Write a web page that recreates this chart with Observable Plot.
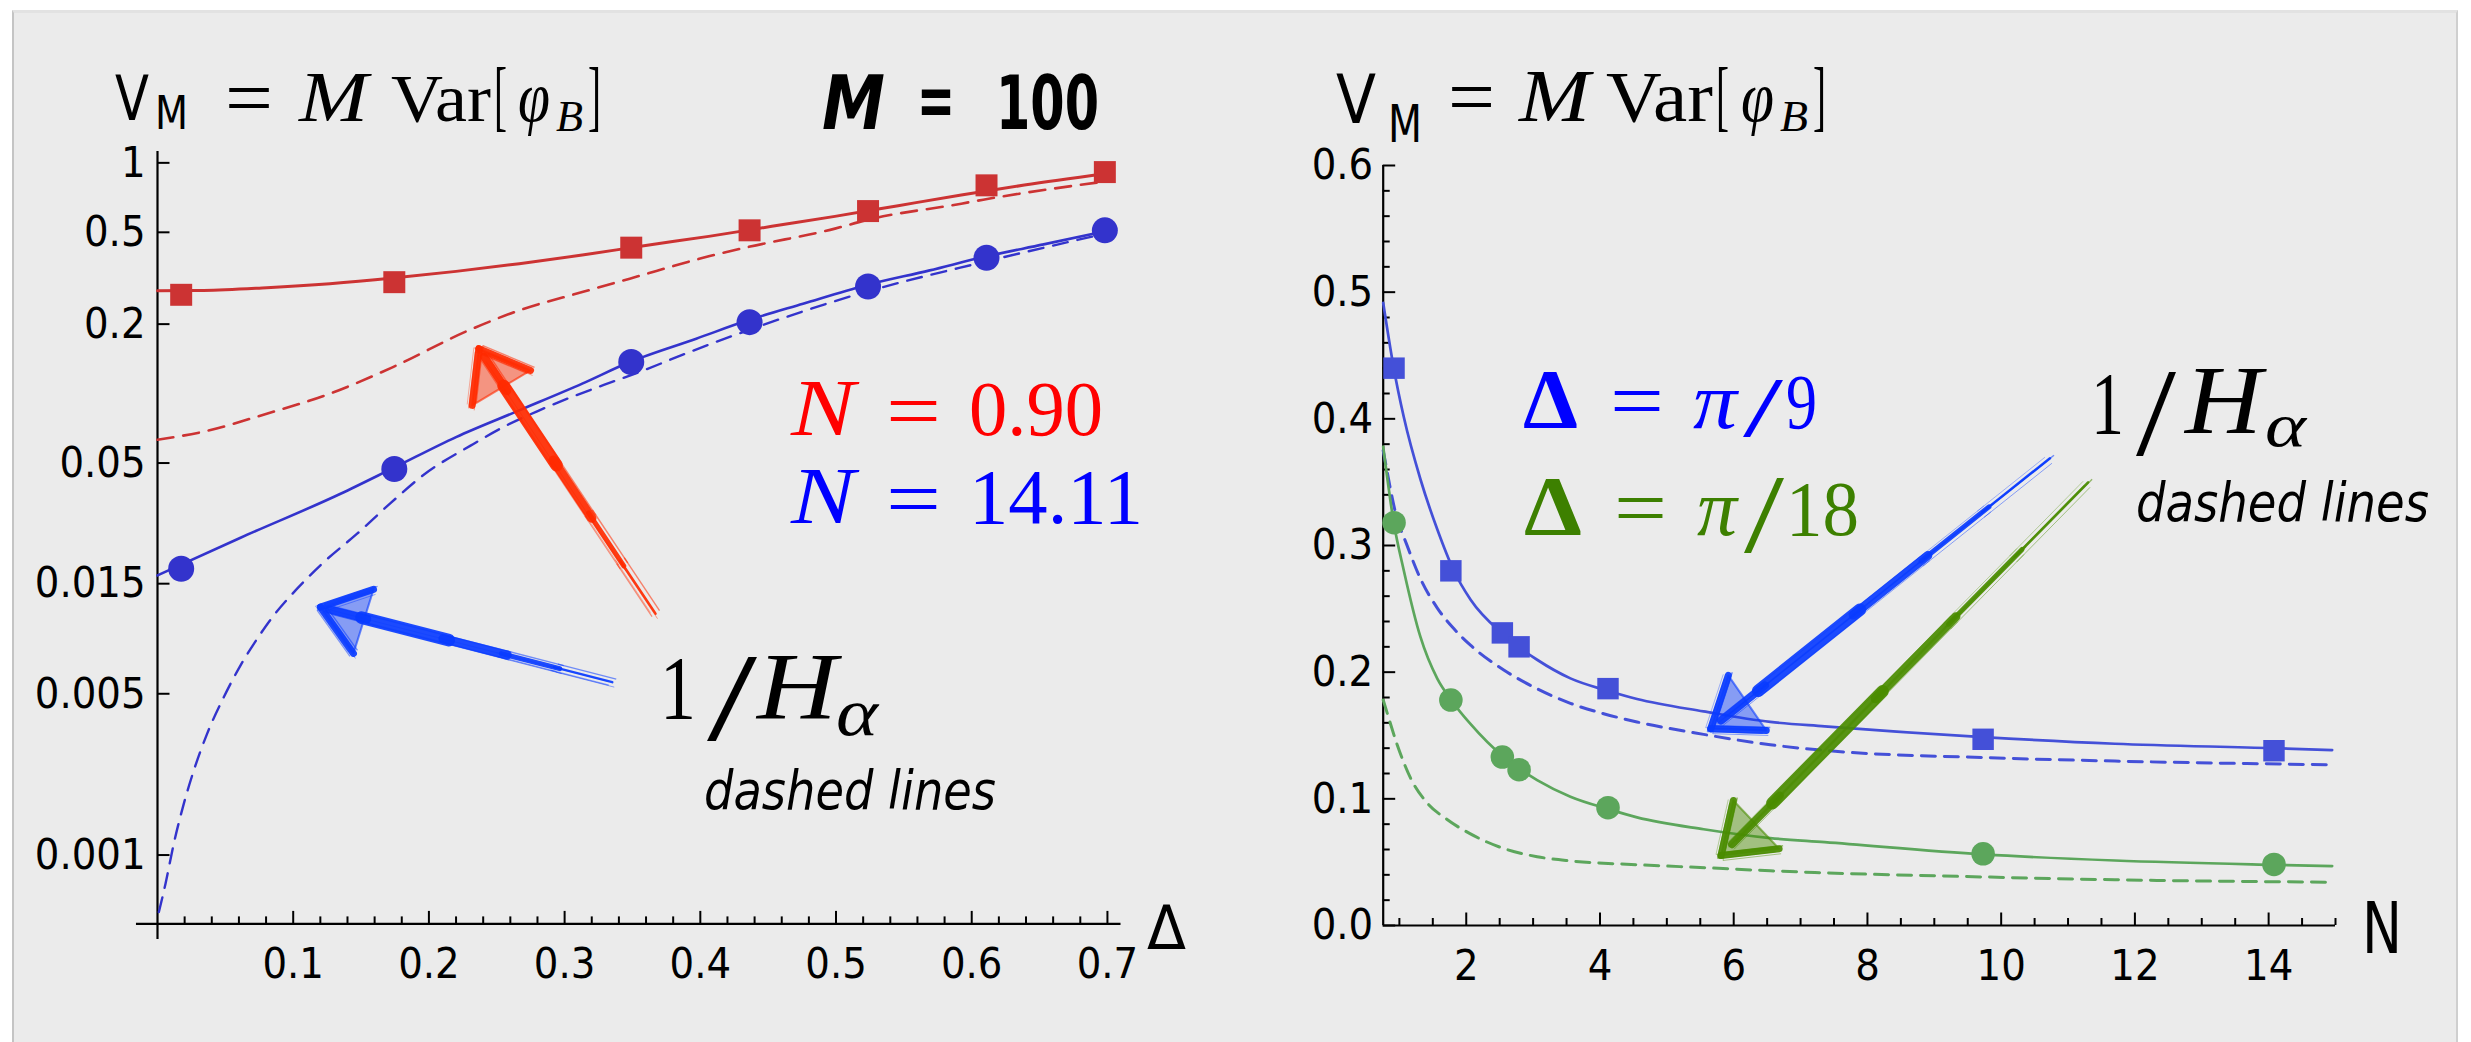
<!DOCTYPE html>
<html><head><meta charset="utf-8">
<script src="https://cdn.jsdelivr.net/npm/d3@7"></script>
<script src="https://cdn.jsdelivr.net/npm/@observablehq/plot@0.6"></script>
<style>
html,body{margin:0;padding:0;background:#fff;}
#wrap{position:relative;width:2471px;height:1042px;overflow:hidden;background:#fff;}
#panel{position:absolute;left:12px;top:10px;width:2442px;height:1040px;background:#ebebeb;border-left:2px solid #c4c4c4;border-right:2px solid #cfcfcf;border-top:3px solid #e2e2e2;}
.plot{position:absolute;top:0;}
.plot svg text{font-family:'DejaVu Sans Condensed','DejaVu Sans',sans-serif !important;font-size:43px !important;}
#ann{position:absolute;left:0;top:0;}
</style></head>
<body><div id="wrap"><div id="panel"></div><div id="left" class="plot" style="left:0px"></div><div id="right" class="plot" style="left:1230px"></div><svg id="ann" width="2471" height="1042"></svg></div>
<script>
// ---------- LEFT PANEL DATA (x = Δ in radians, y = V_M, log scale) ----------
const deltaPts      = [0.01745, 0.1745, 0.3491, 0.4363, 0.5236, 0.6109, 0.6981];
const redSquareV    = [0.268, 0.304, 0.429, 0.510, 0.618, 0.799, 0.912];
const blueCircleV   = [0.0174, 0.0471, 0.137, 0.204, 0.291, 0.388, 0.510];

const redSolidX  = [0, 0.034, 0.0805, 0.127, 0.1735, 0.220, 0.2666, 0.313, 0.3597, 0.4062, 0.4527, 0.4992, 0.5458, 0.5923, 0.6388, 0.6981];
const redSolidY  = [0.2793, 0.280, 0.2877, 0.2995, 0.3167, 0.3386, 0.3656, 0.3984, 0.4388, 0.4801, 0.5307, 0.5863, 0.6524, 0.7252, 0.8012, 0.8960];
const redDashX   = [0, 0.034, 0.0805, 0.127, 0.1735, 0.2293, 0.2666, 0.313, 0.348, 0.4062, 0.435, 0.4992, 0.5215, 0.5923, 0.6085, 0.6981];
const redDashY   = [0.0631, 0.0684, 0.0818, 0.0999, 0.1303, 0.188, 0.2294, 0.2754, 0.3148, 0.3933, 0.4315, 0.5187, 0.5633, 0.6654, 0.6925, 0.8300];
const blueSolidX = [0, 0.0612, 0.1349, 0.1735, 0.220, 0.2666, 0.313, 0.348, 0.397, 0.435, 0.4757, 0.5215, 0.569, 0.6085, 0.653, 0.6981];
const blueSolidY = [0.01629, 0.02373, 0.0368, 0.0475, 0.0648, 0.0846, 0.1104, 0.137, 0.173, 0.2077, 0.2453, 0.2944, 0.342, 0.3906, 0.4432, 0.5050];
const blueDashX  = [0.001, 0.0059, 0.012, 0.0194, 0.0268, 0.0366, 0.0489, 0.0612, 0.0735, 0.0857, 0.1029, 0.1226, 0.1471, 0.1717, 0.1962, 0.2307, 0.2552, 0.2798, 0.3043, 0.3289, 0.3535, 0.3928, 0.435, 0.5215, 0.6085, 0.6981];
const blueDashY  = [0.000566, 0.000751, 0.00112, 0.00167, 0.00233, 0.00336, 0.00484, 0.00664, 0.00866, 0.01093, 0.01427, 0.01861, 0.0247, 0.0335, 0.0445, 0.0595, 0.0718, 0.0838, 0.0962, 0.1090, 0.1230, 0.152, 0.188, 0.2754, 0.3715, 0.4932];

const leftXTicks      = [0.1, 0.2, 0.3, 0.4, 0.5, 0.6, 0.7];
const leftXTickLabels = ["0.1", "0.2", "0.3", "0.4", "0.5", "0.6", "0.7"];
const leftYTicks      = [0.001, 0.005, 0.015, 0.05, 0.2, 0.5, 1];
const leftYTickLabels = ["0.001", "0.005", "0.015", "0.05", "0.2", "0.5", "1"];

// hand-drawn annotation arrows (left), in data units [Δ, V]
const lArrColor = ["#ff2a00", "#0a3cff"];
const lArrTail  = [[0.367, 0.01112], [0.3351, 0.005617]];
const lArrTip   = [[0.2368, 0.1565], [0.1201, 0.01187]];
const lArrWingA = [[0.2749, 0.126], [0.1592, 0.01417]];
const lArrWingB = [[0.2319, 0.0889], [0.1444, 0.00748]];

// ---------- RIGHT PANEL DATA (x = N, y = V_M) ----------
const nPts        = [0.92, 1.77, 2.54, 2.79, 4.12, 9.73, 14.08];
const blueSquareV = [0.440, 0.280, 0.231, 0.220, 0.187, 0.147, 0.138];
const greenDotV   = [0.318, 0.178, 0.133, 0.123, 0.093, 0.0566, 0.0482];

const rBlueSolidX = [0.758, 0.916, 1.066, 1.315, 1.565, 1.813, 2.063, 2.561, 3.06, 3.558, 4.115, 4.554, 5.55, 6.547, 7.36, 9.728, 11.70, 14.07, 14.95];
const rBlueSolidY = [0.4915, 0.44, 0.4014, 0.3523, 0.313, 0.2803, 0.2574, 0.2295, 0.2098, 0.1951, 0.1853, 0.1788, 0.169, 0.1607, 0.1572, 0.1487, 0.1435, 0.140, 0.1385];
const rBlueDashX  = [0.758, 0.792, 0.942, 1.116, 1.316, 1.565, 1.813, 2.063, 2.561, 3.06, 3.558, 4.055, 4.554, 5.55, 6.547, 7.36, 9.84, 11.70, 14.92];
const rBlueDashY  = [0.375, 0.3654, 0.326, 0.2999, 0.2737, 0.2508, 0.2344, 0.2213, 0.2017, 0.1869, 0.1754, 0.1672, 0.1607, 0.1509, 0.1427, 0.1382, 0.1324, 0.1298, 0.1269];
const rGreenSolidX = [0.758, 0.916, 1.066, 1.315, 1.565, 1.779, 2.063, 2.561, 3.06, 3.558, 4.126, 4.554, 5.55, 6.547, 7.36, 9.74, 11.70, 14.08, 14.95];
const rGreenSolidY = [0.378, 0.318, 0.2803, 0.2278, 0.1951, 0.1777, 0.1591, 0.1329, 0.1148, 0.1017, 0.0919, 0.0854, 0.076, 0.069, 0.0658, 0.0561, 0.0513, 0.0479, 0.0469];
const rGreenDashX = [0.758, 0.792, 0.967, 1.166, 1.415, 1.714, 2.063, 2.561, 3.06, 3.558, 4.554, 5.625, 6.547, 7.36, 9.84, 11.70, 14.92];
const rGreenDashY = [0.178, 0.1722, 0.1427, 0.1165, 0.0968, 0.0837, 0.0723, 0.0608, 0.0543, 0.051, 0.048, 0.0455, 0.0432, 0.0416, 0.0382, 0.0361, 0.0342];

const rightXTicks      = [2, 4, 6, 8, 10, 12, 14];
const rightXTickLabels = ["2", "4", "6", "8", "10", "12", "14"];
const rightYTicks      = [0, 0.1, 0.2, 0.3, 0.4, 0.5, 0.6];
const rightYTickLabels = ["0.0", "0.1", "0.2", "0.3", "0.4", "0.5", "0.6"];

const rArrColor = ["#0a3cff", "#4a8c00"];
const rArrTail  = [[10.73, 0.3689], [11.30, 0.3499]];
const rArrTip   = [[5.656, 0.1554], [5.81, 0.0553]];
const rArrWingA = [[5.919, 0.1975], [5.994, 0.0987]];
const rArrWingB = [[6.487, 0.154], [6.679, 0.0606]];

// ---------- helpers ----------
const rows = (xs, ys) => xs.map((x, i) => ({x, y: ys[i]}));
const FS = "'Liberation Sans Narrow','DejaVu Sans Condensed',sans-serif";
const FC = "'DejaVu Sans Condensed','DejaVu Sans',sans-serif";
const FR = "'Liberation Serif','DejaVu Serif',serif";

function along(tip, tail, t, logY) {
  const x = tip[0] + t * (tail[0] - tip[0]);
  const y = logY ? Math.exp(Math.log(tip[1]) + t * (Math.log(tail[1]) - Math.log(tip[1])))
                 : tip[1] + t * (tail[1] - tip[1]);
  return [x, y];
}
const shaftPieces = [[1.0, 0.8, 2.5], [0.82, 0.62, 5], [0.64, 0.42, 9], [0.44, 0.14, 12.5], [0.16, 0.03, 8]];
function arrowSegs(color, tail, tip, wa, wb, logY) {
  const segs = [];
  color.forEach((c, i) => {
    shaftPieces.forEach(([t0, t1, w]) => {
      const a = along(tip[i], tail[i], t0, logY), b = along(tip[i], tail[i], t1, logY);
      segs.push({x1: a[0], y1: a[1], x2: b[0], y2: b[1], w, c});
    });
    segs.push({x1: tip[i][0], y1: tip[i][1], x2: wa[i][0], y2: wa[i][1], w: 7, c});
    segs.push({x1: tip[i][0], y1: tip[i][1], x2: wb[i][0], y2: wb[i][1], w: 7, c});
  });
  return segs;
}
function arrowHeads(color, tip, wa, wb) {
  const pts = [];
  color.forEach((c, i) => {
    [tip[i], wa[i], wb[i], tip[i]].forEach(p => pts.push({x: p[0], y: p[1], id: i, c}));
  });
  return pts;
}
function arrowMarks(segs, heads) {
  const o = {x1: "x1", y1: "y1", x2: "x2", y2: "y2", stroke: "c"};
  return [
    Plot.line(heads, {x: "x", y: "y", z: "id", fill: "c", fillOpacity: 0.45, stroke: "c", strokeWidth: 2, strokeOpacity: 0.6}),
    Plot.link(segs, {...o, strokeWidth: "w", strokeLinecap: "round", strokeOpacity: 0.92}),
    Plot.link(segs, {...o, strokeWidth: 1.4, dx: 4, dy: -3, strokeOpacity: 0.55}),
    Plot.link(segs, {...o, strokeWidth: 1.2, dx: -3.5, dy: 3, strokeOpacity: 0.5}),
    Plot.link(segs, {...o, strokeWidth: 1, dx: 2, dy: 5, strokeOpacity: 0.45}),
    Plot.link(segs, {...o, strokeWidth: 1, dx: -5, dy: -1, strokeOpacity: 0.35})
  ];
}
const baseStyle = {background: "transparent", overflow: "visible", fontFamily: FC, fontSize: "43px", color: "#000"};

// ---------- LEFT PLOT ----------
const L_X = [0, 0.71], L_Y = [0.000503, 1.12];
const leftXMinor = d3.range(1, 36).map(k => k * 0.02).filter(v => Math.abs(v * 10 - Math.round(v * 10)) > 1e-6);
const leftPlot = Plot.plot({
  width: 1240, height: 1042,
  marginLeft: 157, marginRight: 119.5, marginTop: 151, marginBottom: 118.6,
  x: {domain: L_X, label: null},
  y: {type: "log", domain: L_Y, label: null},
  style: baseStyle,
  marks: [
    Plot.ruleY([L_Y[0]], {x1: -0.0155, x2: L_X[1], strokeWidth: 2.2}),
    Plot.ruleX([0], {y1: 0.00043, y2: L_Y[1], strokeWidth: 2.2}),
    Plot.axisX(leftXMinor, {anchor: "bottom", tickSize: -7, strokeWidth: 2, tickFormat: () => "", label: null}),
    Plot.axisX(leftXTicks, {anchor: "bottom", tickSize: -12.5, strokeWidth: 2, tickFormat: () => "", label: null}),
    Plot.axisX(leftXTicks, {anchor: "bottom", tickSize: 0, tickPadding: 24, fontSize: 43, tickFormat: d => leftXTickLabels[leftXTicks.indexOf(d)], label: null}),
    Plot.axisY(leftYTicks, {anchor: "left", tickSize: -12.5, strokeWidth: 2, tickFormat: () => "", label: null}),
    Plot.axisY(leftYTicks, {anchor: "left", tickSize: 0, tickPadding: 12, fontSize: 43, tickFormat: d => leftYTickLabels[leftYTicks.indexOf(d)], label: null}),
    Plot.line(rows(redDashX, redDashY), {x: "x", y: "y", stroke: "#cc3333", strokeWidth: 2.6, strokeDasharray: "16,10", curve: "monotone-x"}),
    Plot.line(rows(blueDashX, blueDashY), {x: "x", y: "y", stroke: "#3333cc", strokeWidth: 2.4, strokeDasharray: "15,10", curve: "monotone-x"}),
    Plot.line(rows(redSolidX, redSolidY), {x: "x", y: "y", stroke: "#cc3333", strokeWidth: 3, curve: "monotone-x"}),
    Plot.line(rows(blueSolidX, blueSolidY), {x: "x", y: "y", stroke: "#3333cc", strokeWidth: 2.6, curve: "monotone-x"}),
    Plot.dot(rows(deltaPts, redSquareV), {x: "x", y: "y", symbol: "square", r: 12.4, fill: "#cc3333"}),
    Plot.dot(rows(deltaPts, blueCircleV), {x: "x", y: "y", r: 13, fill: "#3333cc"}),
    ...arrowMarks(arrowSegs(lArrColor, lArrTail, lArrTip, lArrWingA, lArrWingB, true), arrowHeads(lArrColor, lArrTip, lArrWingA, lArrWingB))
  ]
});
document.getElementById("left").appendChild(leftPlot);

// ---------- RIGHT PLOT ----------
const R_X = [0.758, 15], R_Y = [0, 0.6];
const rightXMinor = d3.range(2, 31).map(k => k * 0.5).filter(v => v % 2 !== 0);
const rightYMinor = d3.range(1, 30).map(k => k * 0.02).filter(v => Math.abs(v * 10 - Math.round(v * 10)) > 1e-6);
const rightPlot = Plot.plot({
  width: 1241, height: 1042,
  marginLeft: 152.7, marginRight: 136, marginTop: 165, marginBottom: 117,
  x: {domain: R_X, label: null},
  y: {domain: R_Y, label: null},
  style: baseStyle,
  marks: [
    Plot.ruleY([0], {x1: R_X[0], x2: R_X[1], strokeWidth: 2.2}),
    Plot.ruleX([R_X[0]], {y1: 0, y2: R_Y[1], strokeWidth: 2.2}),
    Plot.axisX(rightXMinor, {anchor: "bottom", tickSize: -7, strokeWidth: 2, tickFormat: () => "", label: null}),
    Plot.axisX(rightXTicks, {anchor: "bottom", tickSize: -12.5, strokeWidth: 2, tickFormat: () => "", label: null}),
    Plot.axisX(rightXTicks, {anchor: "bottom", tickSize: 0, tickPadding: 24, fontSize: 43, tickFormat: d => rightXTickLabels[rightXTicks.indexOf(d)], label: null}),
    Plot.axisY(rightYMinor, {anchor: "left", tickSize: -7, strokeWidth: 2, tickFormat: () => "", label: null}),
    Plot.axisY(rightYTicks, {anchor: "left", tickSize: -12.5, strokeWidth: 2, tickFormat: () => "", label: null}),
    Plot.axisY(rightYTicks, {anchor: "left", tickSize: 0, tickPadding: 10, fontSize: 43, tickFormat: d => rightYTickLabels[rightYTicks.indexOf(d)], label: null}),
    Plot.line(rows(rBlueDashX, rBlueDashY), {x: "x", y: "y", stroke: "#4450d8", strokeWidth: 3, strokeDasharray: "14,9", curve: "monotone-x"}),
    Plot.line(rows(rGreenDashX, rGreenDashY), {x: "x", y: "y", stroke: "#5ca65c", strokeWidth: 3, strokeDasharray: "14,9", curve: "monotone-x"}),
    Plot.line(rows(rBlueSolidX, rBlueSolidY), {x: "x", y: "y", stroke: "#4450d8", strokeWidth: 2.7, curve: "monotone-x"}),
    Plot.line(rows(rGreenSolidX, rGreenSolidY), {x: "x", y: "y", stroke: "#5ca65c", strokeWidth: 2.7, curve: "monotone-x"}),
    Plot.dot(rows(nPts, blueSquareV), {x: "x", y: "y", symbol: "square", r: 12.1, fill: "#4450d8"}),
    Plot.dot(rows(nPts, greenDotV), {x: "x", y: "y", r: 11.8, fill: "#5ca65c"}),
    ...arrowMarks(arrowSegs(rArrColor, rArrTail, rArrTip, rArrWingA, rArrWingB, false), arrowHeads(rArrColor, rArrTip, rArrWingA, rArrWingB))
  ]
});
document.getElementById("right").appendChild(rightPlot);

// ---------- TEXT ANNOTATIONS (one <text> per formula) ----------
const K = "#000", RED = "#ff0000", BLU = "#0000ff", GRN = "#3d8000";
// each part: [text, x, baseline, size, family, style, weight, color, textLength]
const formulas = [
  [ // left title
    ["V", 115, 119.5, 62, FS, "normal", "normal", K, 34],
    ["M", 155, 129, 46, FS, "normal", "normal", K, 33],
    ["=", 225, 125, 80, FR, "normal", "normal", K, 48],
    ["M", 299, 121, 72, FR, "italic", "normal", K, 69],
    ["Var", 391, 121, 68, FR, "normal", "normal", K, 100],
    ["[", 494, 121.6, 78, FR, "normal", "normal", K, 13],
    ["φ", 518, 121, 72, FR, "italic", "normal", K, 32],
    ["B", 556, 131, 44, FR, "italic", "normal", K, 27],
    ["]", 588, 121.6, 78, FR, "normal", "normal", K, 13]
  ],
  [ // M = 100
    ["M", 822, 129.4, 74, FS, "italic", "bold", K, 63],
    ["=", 917, 126, 74, FS, "normal", "bold", K, 38],
    ["100", 996, 129.4, 74, FS, "normal", "bold", K, 103]
  ],
  [
    ["N", 791, 435, 80, FR, "italic", "normal", RED, 64],
    ["=", 886, 437, 78, FR, "normal", "normal", RED, 55],
    ["0.90", 969, 435, 78, FR, "normal", "normal", RED, 134]
  ],
  [
    ["N", 791, 522.5, 80, FR, "italic", "normal", BLU, 64],
    ["=", 886, 524.5, 78, FR, "normal", "normal", BLU, 55],
    ["14.11", 969, 522.5, 78, FR, "normal", "normal", BLU, 174]
  ],
  [ // 1/H_alpha left
    ["1", 660, 718.5, 92, FR, "normal", "normal", K, 36],
    ["/", 707, 740, 125, FR, "normal", "normal", K, 50],
    ["H", 757, 718.5, 95, FR, "italic", "normal", K, 80],
    ["α", 836, 735, 68, FR, "italic", "normal", K, 42]
  ],
  [["dashed lines", 704, 809, 54, FC, "italic", "normal", K, 292]],
  [["Δ", 1147, 949, 60, FC, "normal", "normal", K, 39]],
  [ // right title
    ["V", 1336, 123, 68, FS, "normal", "normal", K, 40],
    ["M", 1388, 142, 52, FS, "normal", "normal", K, 34],
    ["=", 1448, 124, 80, FR, "normal", "normal", K, 47],
    ["M", 1519, 121, 74, FR, "italic", "normal", K, 71],
    ["Var", 1606, 121, 72, FR, "normal", "normal", K, 107],
    ["[", 1716, 121.6, 78, FR, "normal", "normal", K, 13],
    ["φ", 1741, 121, 72, FR, "italic", "normal", K, 33],
    ["B", 1780, 131, 44, FR, "italic", "normal", K, 28],
    ["]", 1813, 121.6, 78, FR, "normal", "normal", K, 13]
  ],
  [
    ["Δ", 1523, 428, 85, FR, "normal", "bold", BLU, 55],
    ["=", 1610, 428, 80, FR, "normal", "normal", BLU, 54],
    ["π", 1693, 428, 80, FR, "italic", "normal", BLU, 44],
    ["/", 1743, 436, 84, FR, "normal", "normal", BLU, 40],
    ["9", 1786, 428, 79, FR, "normal", "normal", BLU, 31]
  ],
  [
    ["Δ", 1524, 534.6, 85, FR, "normal", "bold", GRN, 58],
    ["=", 1614, 534.6, 80, FR, "normal", "normal", GRN, 53],
    ["π", 1697, 534.6, 80, FR, "italic", "normal", GRN, 40],
    ["/", 1744, 552, 113, FR, "normal", "normal", GRN, 40],
    ["18", 1786, 534.6, 79, FR, "normal", "normal", GRN, 73]
  ],
  [ // 1/H_alpha right
    ["1", 2091, 432.8, 88, FR, "normal", "normal", K, 33],
    ["/", 2136, 455, 125, FR, "normal", "normal", K, 40],
    ["H", 2185, 432.8, 98, FR, "italic", "normal", K, 77],
    ["α", 2265, 446, 62, FR, "italic", "normal", K, 41]
  ],
  [["dashed lines", 2136, 520.7, 54, FC, "italic", "normal", K, 293]],
  [["N", 2362, 953, 72, FS, "normal", "normal", K, 40]]
];
const ann = d3.select("#ann");
formulas.forEach(parts => {
  const t = ann.append("text");
  parts.forEach(([s, x, y, size, f, st, w, c, len]) => {
    t.append("tspan").attr("x", x).attr("y", y)
      .attr("font-size", size).attr("font-family", f).attr("font-style", st).attr("font-weight", w)
      .attr("fill", c).attr("textLength", len).attr("lengthAdjust", "spacingAndGlyphs")
      .text(s);
  });
});
</script>
</body></html>
